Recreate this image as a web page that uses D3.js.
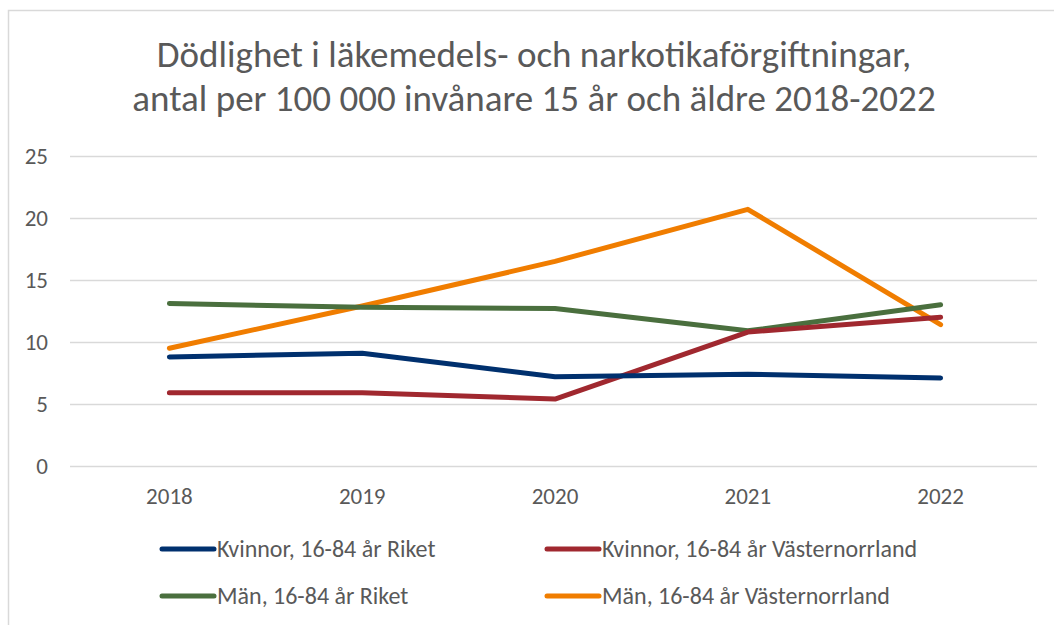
<!DOCTYPE html>
<html>
<head>
<meta charset="utf-8">
<script src="https://cdn.jsdelivr.net/npm/d3@7"></script>
<style>
  body { margin: 0; background: #fff; }
  text { font-family: Carlito, Lato, sans-serif; fill: #595959; }
</style>
</head>
<body>
<div id="chart"></div>
<script>
// data
var years = ["2018", "2019", "2020", "2021", "2022"];
var kvinnorRiket = [8.8, 9.1, 7.2, 7.4, 7.1];
var kvinnorVN = [5.9, 5.9, 5.4, 10.8, 12.0];
var manRiket = [13.1, 12.8, 12.7, 10.9, 13.0];
var manVN = [9.5, 12.9, 16.5, 20.7, 11.4];
var yTicks = [0, 5, 10, 15, 20, 25];
var titleLines = ["Dödlighet i läkemedels- och narkotikaförgiftningar,",
                  "antal per 100 000 invånare 15 år och äldre 2018-2022"];

var series = [
    {name: "Kvinnor, 16-84 år Riket", values: kvinnorRiket, color: "#00306e"},
    {name: "Kvinnor, 16-84 år Västernorrland", values: kvinnorVN, color: "#a0282f"},
    {name: "Män, 16-84 år Riket", values: manRiket, color: "#4a6f3e"},
    {name: "Män, 16-84 år Västernorrland", values: manVN, color: "#f07d00"}
];
// draw order: orange under the others like in the original
var drawOrder = [3, 2, 1, 0];

var width = 1054, height = 625;
var margin = {top: 156, right: 17, bottom: 159, left: 73};

var svg = d3.select("#chart")
    .append("svg")
    .attr("width", width)
    .attr("height", height);

// chart border (cut by the window on right and bottom)
svg.append("rect")
    .attr("x", 8.5).attr("y", 10.5)
    .attr("width", 1100).attr("height", 700)
    .attr("fill", "none")
    .attr("stroke", "#d9d9d9")
    .attr("stroke-width", 1.5);

// title
svg.append("g").selectAll("text")
    .data(titleLines)
    .enter()
    .append("text")
    .attr("x", 534)
    .attr("y", function (d, i) { return 67 + i * 44; })
    .attr("text-anchor", "middle")
    .style("font-size", "37px")
    .text(function (d) { return d; });

var x = d3.scaleBand()
    .domain(years)
    .range([margin.left, width - margin.right]);

var y = d3.scaleLinear()
    .domain([0, 25])
    .range([height - margin.bottom, margin.top]);

// gridlines
svg.append("g")
    .selectAll("line")
    .data(yTicks)
    .enter()
    .append("line")
    .attr("x1", margin.left - 3)
    .attr("x2", width - margin.right)
    .attr("y1", function (d) { return Math.round(y(d)) + 0.5; })
    .attr("y2", function (d) { return Math.round(y(d)) + 0.5; })
    .attr("stroke", "#d9d9d9")
    .attr("stroke-width", 1.5);

// Y axis labels
var yAxis = svg.append("g")
    .attr("transform", "translate(" + (margin.left - 3) + ",0)")
    .call(d3.axisLeft(y).tickValues(yTicks).tickSize(0).tickPadding(22));
yAxis.select(".domain").remove();
yAxis.selectAll("text").style("font-size", "23px").attr("fill", "#595959");

// X axis labels
var xAxis = svg.append("g")
    .attr("transform", "translate(0," + (height - margin.bottom) + ")")
    .call(d3.axisBottom(x).tickSize(0).tickPadding(22));
xAxis.select(".domain").remove();
xAxis.selectAll("text").style("font-size", "23px").attr("fill", "#595959");

var line = d3.line()
    .x(function (d, i) { return x(years[i]) + x.bandwidth() / 2; })
    .y(function (d) { return y(d); });

svg.append("g")
    .selectAll("path")
    .data(drawOrder.map(function (k) { return series[k]; }))
    .enter()
    .append("path")
    .attr("d", function (d) { return line(d.values); })
    .attr("fill", "none")
    .attr("stroke", function (d) { return d.color; })
    .attr("stroke-width", 5)
    .attr("stroke-linecap", "round")
    .attr("stroke-linejoin", "round");

// legend, 2 columns
var legendX = [160, 545], legendY = [549, 596];
var legend = svg.append("g")
    .selectAll("g")
    .data(series)
    .enter()
    .append("g")
    .attr("transform", function (d, i) {
        return "translate(" + legendX[i % 2] + "," + legendY[Math.floor(i / 2)] + ")";
    });
legend.append("line")
    .attr("x1", 2).attr("x2", 54)
    .attr("y1", 0).attr("y2", 0)
    .attr("stroke", function (d) { return d.color; })
    .attr("stroke-width", 5)
    .attr("stroke-linecap", "round");
legend.append("text")
    .attr("x", 57)
    .attr("y", 8)
    .style("font-size", "24px")
    .text(function (d) { return d.name; });
</script>
</body>
</html>
